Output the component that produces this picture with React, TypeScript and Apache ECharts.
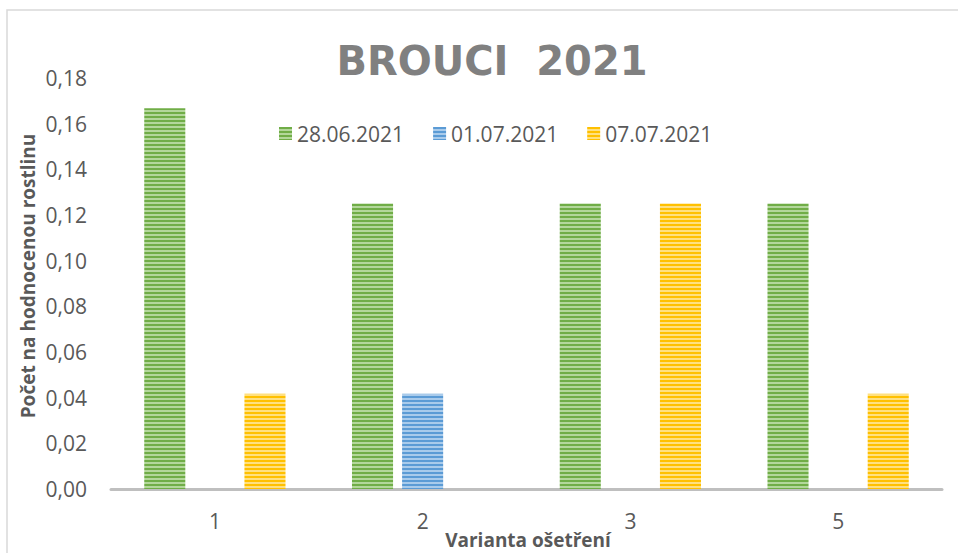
import React, { useEffect, useRef } from "react";
import * as echarts from "echarts";

const categories = ["1", "2", "3", "5"];
const seriesNames = ["28.06.2021", "01.07.2021", "07.07.2021"];
const values0628 = [0.1667, 0.125, 0.125, 0.125];
const values0107 = [0, 0.0417, 0, 0];
const values0707 = [0.0417, 0, 0.125, 0.0417];
const yTicks = { min: 0, max: 0.18, interval: 0.02 };

const palette = [
  { dark: "#70AD47", light: "#B3D79B" },
  { dark: "#5B9BD5", light: "#A9CBEB" },
  { dark: "#FFC000", light: "#FFE080" },
];

function makePattern(dark: string, light: string) {
  const c = document.createElement("canvas");
  c.width = 4;
  c.height = 4;
  const ctx = c.getContext("2d")!;
  ctx.fillStyle = dark;
  ctx.fillRect(0, 0, 4, 2);
  ctx.fillStyle = light;
  ctx.fillRect(0, 2, 4, 2);
  return { image: c, repeat: "repeat", imageWidth: 4, imageHeight: 4 } as any;
}

export default function App() {
  const ref = useRef<HTMLDivElement>(null);
  useEffect(() => {
    if (!ref.current) return;
    const chart = echarts.init(ref.current, null, { renderer: "svg" });
    const font = "'Open Sans', sans-serif";
    const dataSets = [values0628, values0107, values0707];
    chart.setOption({
      animation: false,
      backgroundColor: "#ffffff",
      title: {
        text: "BROUCI  2021",
        left: 487,
        top: 36,
        textAlign: "center",
        textStyle: {
          fontFamily: "'DejaVu Sans', sans-serif",
          fontWeight: "bold",
          fontSize: 40,
          color: "#808080",
        },
      },
      legend: {
        left: 274,
        top: 118,
        itemWidth: 13,
        itemHeight: 13,
        itemGap: 29,
        icon: "rect",
        textStyle: { fontFamily: font, fontSize: 21, color: "#595959", padding: [0, 0, 0, 0] },
        data: seriesNames,
      },
      grid: { left: 111, right: 16, top: 78, bottom: 64, containLabel: false },
      xAxis: {
        type: "category",
        data: categories,
        axisLine: { lineStyle: { color: "#BFBFBF", width: 3 } },
        axisTick: { show: false },
        axisLabel: { fontFamily: font, fontSize: 21, color: "#595959", margin: 21 },
      },
      yAxis: {
        type: "value",
        min: yTicks.min,
        max: yTicks.max,
        interval: yTicks.interval,
        splitLine: { show: false },
        axisLine: { show: false },
        axisTick: { show: false },
        axisLabel: {
          fontFamily: font,
          fontSize: 21,
          color: "#595959",
          margin: 24,
          formatter: (v: number) => v.toFixed(2).replace(".", ","),
        },
      },
      series: seriesNames.map((name, i) => ({
        name,
        type: "bar",
        data: dataSets[i],
        barGap: "22%",
        barCategoryGap: "32%",
        itemStyle: { color: makePattern(palette[i].dark, palette[i].light) },
      })),
      graphic: [
        {
          type: "rect",
          shape: { x: 7, y: 10, width: 970, height: 570 },
          style: { fill: "none", stroke: "#D9D9D9", lineWidth: 1.5 },
          silent: true,
        },
        {
          type: "text",
          x: 28,
          y: 276,
          rotation: Math.PI / 2,
          style: {
            text: "Počet na hodnocenou rostlinu",
            fontFamily: font,
            fontWeight: "bold",
            fontSize: 19,
            fill: "#595959",
            textAlign: "center",
            textVerticalAlign: "middle",
          },
        },
        {
          type: "text",
          x: 528,
          y: 540,
          style: {
            text: "Varianta ošetření",
            fontFamily: font,
            fontWeight: "bold",
            fontSize: 19,
            fill: "#595959",
            textAlign: "center",
            textVerticalAlign: "middle",
          },
        },
      ],
    });
    return () => chart.dispose();
  }, []);
  return (
    <div
      ref={ref}
      style={{ position: "absolute", left: 0, top: 0, width: 958, height: 553 }}
    />
  );
}
